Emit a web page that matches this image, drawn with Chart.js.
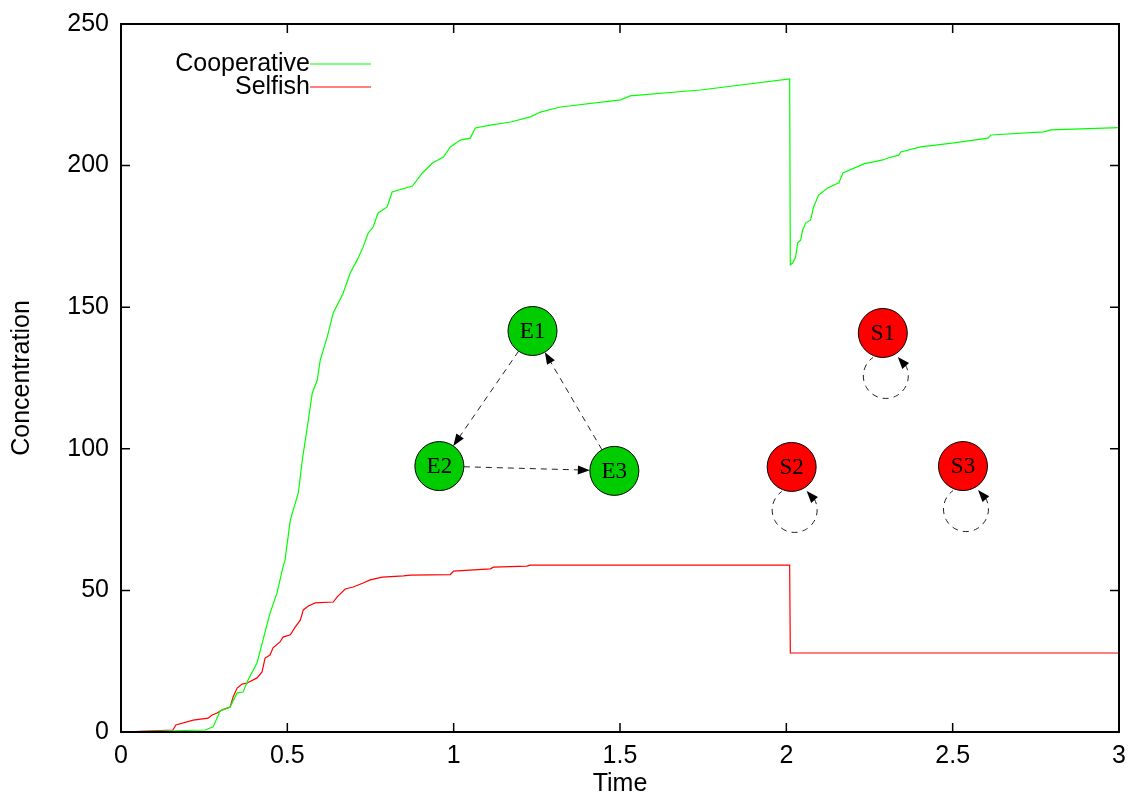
<!DOCTYPE html>
<html>
<head>
<meta charset="utf-8">
<script src="https://cdn.jsdelivr.net/npm/chart.js@4.4.1/dist/chart.umd.min.js"></script>
<style>
  html,body{margin:0;padding:0;background:#fff;}
  #wrap{width:1131px;height:799px;}
</style>
</head>
<body>
<div id="wrap"><canvas id="c" width="1131" height="799"></canvas></div>
<script>
// ---- data ----
const coopX = [0,0.253,0.277,0.298,0.328,0.349,0.367,0.382,0.409,0.427,0.448,0.469,0.487,0.493,0.509,0.533,0.545,0.560,0.575,0.590,0.599,0.620,0.638,0.668,0.689,0.710,0.728,0.743,0.758,0.773,0.800,0.815,0.876,0.906,0.936,0.969,0.990,1.020,1.050,1.065,1.110,1.171,1.231,1.261,1.321,1.502,1.530,1.742,2.010,2.012,2.019,2.028,2.034,2.043,2.049,2.058,2.073,2.082,2.097,2.124,2.158,2.170,2.233,2.290,2.305,2.338,2.344,2.404,2.504,2.606,2.615,2.774,2.795,3.0];
const coopY = [0,0.7,1.8,7.4,8.8,13.8,14.1,18.4,24.4,32.5,42.0,49.1,58.3,60.7,74.9,84.4,96.0,107.7,119.7,124.3,131.4,139.5,148.0,155.0,162.1,166.7,171.3,176.2,178.3,183.3,185.4,190.7,192.8,197.4,200.9,203.0,206.6,209.0,209.7,213.3,214.3,215.4,217.2,218.9,220.7,223.2,224.6,226.7,230.6,165.0,165.6,167.7,172.7,173.7,177.3,179.7,180.8,185.4,189.6,192.1,193.9,197.4,200.6,202.0,202.7,203.7,204.8,206.6,208.0,209.7,210.8,211.9,212.6,213.4];

const selfX = [0,0.156,0.165,0.217,0.262,0.274,0.289,0.304,0.328,0.337,0.349,0.364,0.379,0.409,0.424,0.433,0.448,0.457,0.478,0.487,0.509,0.524,0.539,0.548,0.563,0.584,0.638,0.650,0.674,0.698,0.728,0.749,0.785,0.849,0.870,0.990,1.000,1.110,1.120,1.220,1.230,2.010,2.012,3.0];
const selfY = [0,0.7,2.5,4.2,4.9,6.0,6.7,7.8,8.8,12.4,15.5,16.9,17.3,19.1,21.2,26.1,27.2,29.7,31.8,33.5,34.3,37.1,39.5,43.1,44.5,45.6,45.9,47.7,50.5,51.2,52.6,53.7,54.7,55.1,55.4,55.6,56.8,57.6,58.2,58.6,58.9,58.9,27.9,27.9];

const xTicks = [0,0.5,1,1.5,2,2.5,3];
const yTicks = [0,50,100,150,200,250];

// network inset, in data units
const coopNodes = ['E1','E2','E3'];
const coopNodeX = [1.237,0.957,1.483];
const coopNodeY = [141.6,93.9,92.2];
const coopEdges = [[0,1],[1,2],[2,0]];
const selfNodes = ['S1','S2','S3'];
const selfNodeX = [2.290,2.016,2.531];
const selfNodeY = [140.9,93.6,93.9];

const pts = (xs, ys) => xs.map((x,i)=>({x, y:ys[i]}));

function arrowHead(ctx, tx, ty, ang){
  const L = 12, W = 4.5;
  ctx.beginPath();
  ctx.moveTo(tx, ty);
  ctx.lineTo(tx - L*Math.cos(ang) + W*Math.sin(ang), ty - L*Math.sin(ang) - W*Math.cos(ang));
  ctx.lineTo(tx - L*Math.cos(ang) - W*Math.sin(ang), ty - L*Math.sin(ang) + W*Math.cos(ang));
  ctx.closePath();
  ctx.fill();
}

function drawNode(ctx, x, y, r, fill, label){
  ctx.setLineDash([]);
  ctx.beginPath();
  ctx.arc(x, y, r, 0, Math.PI*2);
  ctx.fillStyle = fill; ctx.fill();
  ctx.lineWidth = 1; ctx.strokeStyle = '#000'; ctx.stroke();
  ctx.fillStyle = '#000';
  ctx.font = '23px "Liberation Serif", "DejaVu Serif", serif';
  ctx.textAlign = 'center'; ctx.textBaseline = 'middle';
  ctx.fillText(label, x, y + 1);
}

// drop the extra room Chart.js keeps for edge tick labels, so the frame sits where padding says
const noEdgePad = s => { s.paddingTop = s.paddingBottom = s.paddingLeft = s.paddingRight = 0; };

const framePlugin = {
  id: 'frame',
  afterDraw(chart){
    const {ctx, chartArea:a, scales:{x, y}} = chart;
    ctx.save();
    // inward ticks on all four sides
    ctx.strokeStyle = '#000'; ctx.lineWidth = 1.5;
    ctx.beginPath();
    xTicks.forEach(v => {
      const px = x.getPixelForValue(v);
      ctx.moveTo(px, a.bottom); ctx.lineTo(px, a.bottom - 9);
      ctx.moveTo(px, a.top); ctx.lineTo(px, a.top + 9);
    });
    yTicks.forEach(v => {
      const py = y.getPixelForValue(v);
      ctx.moveTo(a.left, py); ctx.lineTo(a.left + 9, py);
      ctx.moveTo(a.right, py); ctx.lineTo(a.right - 9, py);
    });
    ctx.stroke();
    ctx.lineWidth = 2;
    ctx.strokeRect(a.left, a.top, a.right - a.left, a.bottom - a.top);

    // gnuplot-style key
    ctx.font = '25px "Liberation Sans", Arial, sans-serif';
    ctx.textAlign = 'right'; ctx.textBaseline = 'middle';
    chart.data.datasets.forEach((ds, i) => {
      const ty = a.top + 40 + i*23;
      ctx.fillStyle = '#000';
      ctx.fillText(ds.label, a.left + 189, ty);
      ctx.strokeStyle = ds.borderColor; ctx.lineWidth = 1.2;
      ctx.beginPath(); ctx.moveTo(a.left + 189, ty); ctx.lineTo(a.left + 250, ty); ctx.stroke();
    });

    // network inset
    const r = 24.5;
    const cx = coopNodeX.map(v => x.getPixelForValue(v));
    const cy = coopNodeY.map(v => y.getPixelForValue(v));
    ctx.strokeStyle = '#222'; ctx.fillStyle = '#000'; ctx.lineWidth = 1;
    coopEdges.forEach(([s, t]) => {
      const ang = Math.atan2(cy[t]-cy[s], cx[t]-cx[s]);
      const x0 = cx[s] + r*Math.cos(ang), y0 = cy[s] + r*Math.sin(ang);
      const x1 = cx[t] - r*Math.cos(ang), y1 = cy[t] - r*Math.sin(ang);
      ctx.setLineDash([6,5]);
      ctx.beginPath(); ctx.moveTo(x0, y0); ctx.lineTo(x1 - 10*Math.cos(ang), y1 - 10*Math.sin(ang)); ctx.stroke();
      ctx.setLineDash([]);
      arrowHead(ctx, x1, y1, ang);
    });
    coopNodes.forEach((n, i) => drawNode(ctx, cx[i], cy[i], r, '#00cc00', n));

    selfNodes.forEach((n, i) => {
      const sx = x.getPixelForValue(selfNodeX[i]);
      const sy = y.getPixelForValue(selfNodeY[i]);
      const lx = sx + 3, ly = sy + 43, lr = 22.5;
      ctx.strokeStyle = '#222'; ctx.lineWidth = 1;
      ctx.setLineDash([6,5]);
      ctx.beginPath();
      ctx.arc(lx, ly, lr, -30*Math.PI/180, 235*Math.PI/180);
      ctx.stroke();
      ctx.setLineDash([]);
      // arrow pointing back into the node from the upper right of the loop
      ctx.fillStyle = '#000';
      arrowHead(ctx, sx + 15, sy + 24, Math.atan2(-8, -7));
      drawNode(ctx, sx, sy, r, '#ff0000', n);
    });
    ctx.restore();
  }
};

const tickFont = {family:'"Liberation Sans", Arial, sans-serif', size:25};

new Chart(document.getElementById('c'), {
  type: 'line',
  data: {
    datasets: [
      {label:'Cooperative', data: pts(coopX, coopY), borderColor:'#00ff00', borderWidth:1.2, pointRadius:0, tension:0, fill:false},
      {label:'Selfish', data: pts(selfX, selfY), borderColor:'#ff0000', borderWidth:1.2, pointRadius:0, tension:0, fill:false}
    ]
  },
  options: {
    responsive:false, animation:false,
    layout:{padding:{left:0, top:24, right:12, bottom:0}},
    plugins:{legend:{display:false}, tooltip:{enabled:false}},
    scales:{
      x:{
        type:'linear', min:0, max:3,
        afterBuildTicks: s => { s.ticks = xTicks.map(v => ({value:v})); },
        afterFit: s => { s.height = 67; noEdgePad(s); },
        grid:{display:false, drawTicks:false}, border:{display:false},
        ticks:{color:'#000', font:tickFont, padding:9, maxRotation:0, autoSkip:false, callback:v => String(v)},
        title:{display:true, text:'Time', color:'#000', font:tickFont, padding:{top:0, bottom:0}}
      },
      y:{
        type:'linear', min:0, max:250,
        afterBuildTicks: s => { s.ticks = yTicks.map(v => ({value:v})); },
        afterFit: s => { s.width = 121; noEdgePad(s); },
        grid:{display:false, drawTicks:false}, border:{display:false},
        ticks:{color:'#000', font:tickFont, padding:12, autoSkip:false},
        title:{display:true, text:'Concentration', color:'#000', font:tickFont, padding:{top:7, bottom:0}}
      }
    }
  },
  plugins:[framePlugin]
});
</script>
</body>
</html>
